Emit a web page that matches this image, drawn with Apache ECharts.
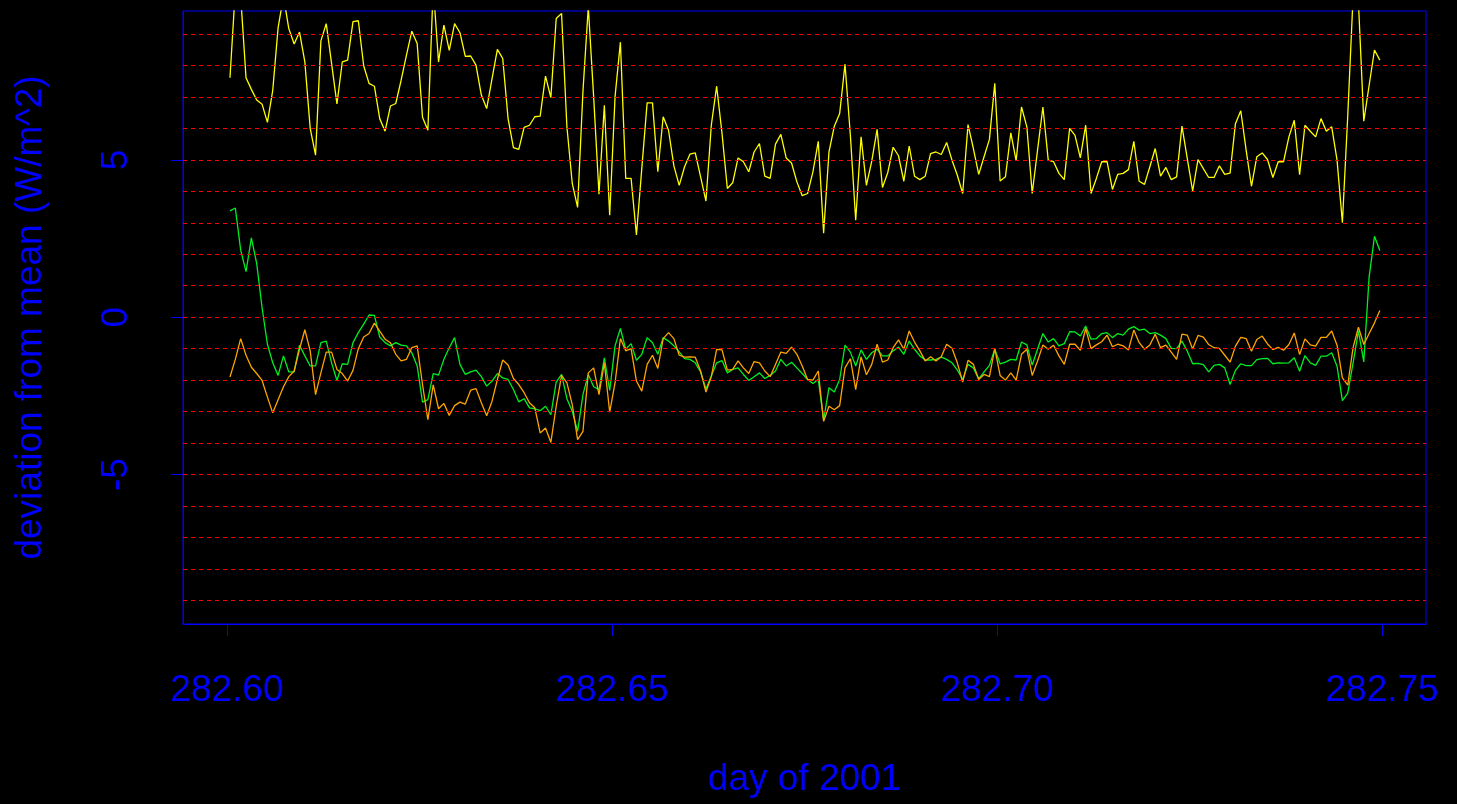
<!DOCTYPE html>
<html>
<head>
<meta charset="utf-8">
<script src="https://cdn.jsdelivr.net/npm/echarts@6/dist/echarts.min.js"></script>
<style>
html,body{margin:0;padding:0;background:#000;}
#chart{width:1457px;height:804px;}
</style>
</head>
<body>
<div id="chart"></div>
<script>
// ---- data ----
const startDay = 282.6004;          // first sample (day of 2001)
const stepDay = 1 / 1440;           // one-minute samples

const yellowValues = [
7.61,10.4,10.2,7.61,7.24,6.90,6.77,6.19,7.21,9.2,
10.2,9.17,8.68,9.06,8.11,6.0,5.15,8.78,9.33,8.06,
6.78,8.11,8.17,9.39,9.42,7.99,7.43,7.34,6.31,5.91,
6.71,6.79,7.53,8.33,9.09,8.70,6.35,5.94,10.5,8.11,
9.28,8.48,9.33,9.04,8.29,8.30,8.01,7.06,6.63,7.58,
8.51,8.22,6.31,5.39,5.33,6.03,6.10,6.37,6.39,7.66,
6.98,9.49,9.65,6.05,4.25,3.49,7.18,9.86,7.0,3.91,
6.73,3.24,7.0,8.74,4.41,4.41,2.61,4.72,6.81,6.81,
4.62,6.37,5.94,4.81,4.19,4.78,5.18,5.22,4.46,3.69,
6.10,7.34,5.84,4.09,4.27,5.06,4.94,4.62,5.25,5.52,
4.48,4.41,5.50,5.81,5.06,4.90,4.30,3.86,3.93,4.62,
5.59,2.67,5.25,6.07,6.47,8.04,5.78,3.08,5.73,4.19,
4.96,5.97,4.12,4.60,5.40,5.13,4.32,5.44,4.48,4.37,
4.48,5.20,5.25,5.17,5.55,4.99,4.51,3.93,6.12,5.36,
4.54,5.10,5.65,7.43,4.33,4.46,5.86,4.97,6.68,6.05,
3.93,5.31,6.68,4.99,4.94,4.57,4.37,6.0,5.78,5.06,
6.10,3.93,4.41,4.94,4.94,4.06,4.54,4.57,4.69,5.59,
4.32,4.22,4.78,5.36,4.48,4.76,4.37,4.46,6.07,5.04,
4.01,5.01,4.72,4.44,4.44,4.81,4.54,4.58,6.15,6.56,
5.31,4.16,5.10,5.22,5.01,4.44,4.94,4.94,5.73,6.26,
4.53,6.10,5.91,5.73,6.31,5.91,6.05,4.99,3.0,6.4,
10.2,10.0,6.23,7.37,8.49,8.17
];

const greenValues = [
3.38,3.47,2.13,1.45,2.52,1.7,0.3,-0.86,-1.45,-1.85,
-1.23,-1.74,-1.74,-0.89,-1.23,-1.55,-1.55,-0.81,-0.76,-1.45,
-2.01,-1.48,-1.5,-0.81,-0.49,-0.22,0.07,0.06,-0.63,-0.81,
-0.91,-0.81,-0.89,-0.91,-1.13,-1.55,-2.70,-2.62,-1.79,-1.84,
-1.34,-0.97,-0.65,-1.50,-1.82,-1.74,-1.68,-1.89,-2.19,-2.03,
-1.79,-1.93,-1.98,-2.30,-2.69,-2.59,-2.88,-2.91,-2.97,-2.83,
-3.10,-2.06,-1.82,-2.59,-2.99,-3.63,-2.46,-1.82,-2.21,-2.30,
-1.29,-2.33,-0.91,-0.36,-1.02,-0.84,-1.37,-1.18,-0.65,-0.81,
-1.18,-0.65,-0.76,-0.91,-1.10,-1.32,-1.34,-1.45,-1.74,-2.28,
-1.87,-1.45,-1.38,-1.77,-1.66,-1.61,-1.82,-2.01,-1.89,-1.77,
-1.95,-1.85,-1.71,-1.34,-1.55,-1.43,-1.61,-1.79,-1.98,-2.11,
-1.98,-3.28,-2.24,-2.38,-1.98,-0.89,-1.11,-1.55,-1.04,-1.34,
-1.13,-1.02,-1.23,-1.23,-1.07,-0.95,-1.18,-0.76,-1.02,-1.23,
-1.36,-1.36,-1.34,-1.27,-1.34,-1.45,-1.68,-1.98,-1.50,-1.61,
-1.96,-1.74,-1.53,-1.02,-1.48,-1.43,-1.34,-1.36,-0.79,-0.88,
-1.52,-1.02,-0.52,-0.79,-0.68,-0.91,-0.84,-0.46,-0.47,-0.60,
-0.28,-0.70,-0.68,-0.52,-0.49,-0.65,-0.52,-0.57,-0.38,-0.30,
-0.41,-0.38,-0.52,-0.49,-0.57,-0.68,-0.99,-1.0,-0.76,-1.08,
-1.48,-1.47,-1.51,-1.74,-1.53,-1.50,-1.61,-2.14,-1.69,-1.48,
-1.54,-1.54,-1.35,-1.32,-1.31,-1.48,-1.45,-1.46,-1.45,-1.29,
-1.72,-1.22,-1.45,-1.53,-1.24,-1.24,-1.13,-1.56,-2.65,-2.41,
-1.45,-0.44,-1.42,1.28,2.57,2.12
];

const orangeValues = [
-1.90,-1.34,-0.68,-1.21,-1.59,-1.79,-2.01,-2.54,-3.04,-2.62,
-2.21,-1.89,-1.71,-1.02,-0.40,-1.07,-2.46,-1.77,-1.11,-1.11,
-1.66,-1.79,-2.03,-1.69,-1.0,-0.63,-0.52,-0.19,-0.44,-0.70,
-0.81,-1.18,-1.39,-1.34,-0.97,-0.91,-2.14,-3.26,-2.15,-2.91,
-2.74,-3.12,-2.81,-2.70,-2.76,-2.32,-2.27,-2.72,-3.13,-2.67,
-1.98,-1.36,-1.52,-1.95,-2.14,-2.40,-2.72,-2.88,-3.68,-3.52,
-3.98,-2.83,-1.85,-2.09,-2.78,-3.89,-3.63,-1.77,-1.61,-2.46,
-1.45,-3.02,-2.09,-0.68,-1.07,-1.0,-2.03,-2.35,-1.50,-1.21,
-1.63,-0.68,-0.49,-0.68,-1.21,-1.27,-1.26,-1.27,-1.71,-2.38,
-1.89,-1.02,-1.04,-1.68,-1.66,-1.39,-1.61,-1.79,-1.41,-1.45,
-1.71,-1.89,-1.50,-1.11,-1.15,-0.95,-1.18,-1.55,-1.98,-2.0,
-1.71,-3.31,-2.83,-2.94,-2.81,-1.61,-1.32,-2.30,-1.26,-1.83,
-1.50,-0.86,-1.43,-1.36,-0.97,-0.72,-1.02,-0.44,-0.79,-1.07,
-1.39,-1.26,-1.39,-1.26,-0.86,-0.99,-1.45,-2.06,-1.37,-1.50,
-1.98,-1.82,-1.89,-1.0,-1.85,-2.0,-1.77,-2.0,-1.18,-1.02,
-1.85,-1.39,-0.88,-1.02,-0.89,-1.23,-1.50,-0.86,-0.86,-1.05,
-0.36,-1.0,-0.88,-0.78,-0.57,-0.94,-0.86,-0.91,-1.04,-0.41,
-0.81,-1.02,-0.88,-0.54,-0.97,-0.89,-1.11,-1.34,-0.54,-0.57,
-1.01,-0.58,-0.63,-0.87,-0.97,-0.99,-1.21,-1.43,-0.92,-0.64,
-0.68,-1.08,-0.71,-0.60,-0.85,-1.03,-0.96,-1.05,-0.87,-0.50,
-1.19,-0.69,-0.88,-0.92,-0.64,-0.64,-0.44,-0.89,-1.93,-2.16,
-0.97,-0.32,-0.87,-0.52,-0.18,0.21
];

const xTickValues = [282.60, 282.65, 282.70, 282.75];
const xTickLabels = ['282.60', '282.65', '282.70', '282.75'];
const yTickValues = [-5, 0, 5];
const yTickLabels = ['-5', '0', '5'];
const gridValues = [-9,-8,-7,-6,-5,-4,-3,-2,-1,0,1,2,3,4,5,6,7,8,9];

const xTitle = 'day of 2001';
const yTitle = 'deviation from mean (W/m^2)';

// ---- chart ----
const BLUE = '#0000FF';
const FONT = 'Liberation Sans, Arial, Helvetica, sans-serif';
const toPairs = vals => vals.map((v, i) => [startDay + i * stepDay, v]);
const pick = (vals, labels) => v => {
  const k = vals.findIndex(t => Math.abs(t - v) < 1e-6);
  return k >= 0 ? labels[k] : '';
};

const chart = echarts.init(document.getElementById('chart'), null, {renderer: 'canvas'});
chart.setOption({
  animation: false,
  backgroundColor: '#000000',
  grid: {
    left: 183, right: 31, top: 11, bottom: 180,
    show: true, borderColor: BLUE, borderWidth: 1, backgroundColor: 'transparent'
  },
  xAxis: {
    type: 'value', min: 282.5943, max: 282.7557,
    axisLine: {show: true, onZero: false, lineStyle: {color: BLUE, width: 1}},
    axisTick: {show: true, customValues: xTickValues, length: 12, inside: false, lineStyle: {color: BLUE, width: 1}},
    axisLabel: {show: true, customValues: xTickValues, formatter: pick(xTickValues, xTickLabels),
      color: BLUE, fontSize: 37, fontFamily: FONT, margin: 48},
    splitLine: {show: false},
    name: xTitle, nameLocation: 'middle', nameGap: 137,
    nameTextStyle: {color: BLUE, fontSize: 37, fontFamily: FONT}
  },
  yAxis: {
    type: 'value', min: -9.75, max: 9.73,
    axisLine: {show: true, onZero: false, lineStyle: {color: BLUE, width: 1}},
    axisTick: {show: true, customValues: yTickValues, length: 12, inside: false, lineStyle: {color: BLUE, width: 1}},
    axisLabel: {show: true, customValues: yTickValues, formatter: pick(yTickValues, yTickLabels),
      rotate: 90, color: BLUE, fontSize: 37, fontFamily: FONT, margin: 48},
    splitLine: {show: false},
    name: yTitle, nameLocation: 'middle', nameGap: 134, nameRotate: 90,
    nameTextStyle: {color: BLUE, fontSize: 37, fontFamily: FONT}
  },
  series: [
    {
      type: 'line', data: [], silent: true, z: 1,
      markLine: {
        silent: true, symbol: ['none', 'none'], label: {show: false},
        lineStyle: {color: '#FF0000', type: [4, 4], width: 1},
        data: gridValues.map(v => ({yAxis: v}))
      }
    },
    {type: 'line', data: toPairs(yellowValues), showSymbol: false, clip: true, z: 3,
      lineStyle: {color: '#FFFF00', width: 1.3}, itemStyle: {color: '#FFFF00'}},
    {type: 'line', data: toPairs(greenValues), showSymbol: false, clip: true, z: 3,
      lineStyle: {color: '#00EE22', width: 1.3}, itemStyle: {color: '#00EE22'}},
    {type: 'line', data: toPairs(orangeValues), showSymbol: false, clip: true, z: 3,
      lineStyle: {color: '#FFA500', width: 1.3}, itemStyle: {color: '#FFA500'}}
  ]
});
</script>
</body>
</html>
